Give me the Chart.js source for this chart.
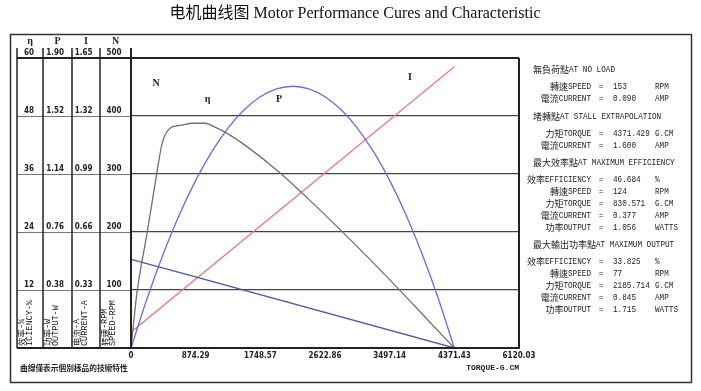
<!DOCTYPE html>
<html>
<head>
<meta charset="utf-8">
<script src="https://cdn.jsdelivr.net/npm/chart.js@4.4.1/dist/chart.umd.min.js"></script>
<style>
  html, body { margin: 0; padding: 0; background: #fff; }
</style>
</head>
<body>
<canvas id="motor" width="701" height="391"></canvas>
<script>
// torque axis (g.cm)
const torqueTicks = [0, 874.29, 1748.57, 2622.86, 3497.14, 4371.43, 5245.71];
const torqueTickLabels = ['0', '874.29', '1748.57', '2622.86', '3497.14', '4371.43', '6120.03'];

// left axes: efficiency / output / current / speed
const effTicks = [0, 12, 24, 36, 48, 60];
const effTickLabels = ['', '12', '24', '36', '48', '60'];
const powerTicks = [0, 0.38, 0.76, 1.14, 1.52, 1.90];
const powerTickLabels = ['', '0.38', '0.76', '1.14', '1.52', '1.90'];
const currentTicks = [0, 0.33, 0.66, 0.99, 1.32, 1.65];
const currentTickLabels = ['', '0.33', '0.66', '0.99', '1.32', '1.65'];
const speedTicks = [0, 100, 200, 300, 400, 500];
const speedTickLabels = ['', '100', '200', '300', '400', '500'];

// N - speed (rpm)
const speedTorque = [0, 4371.43];
const speedRpm = [153, 0];

// I - current (A)
const currentTorque = [0, 4371.43];
const currentAmp = [0.09, 1.6];

// η - efficiency (%)
const effTorque = [0, 82, 218, 345, 422, 531, 680, 830.57, 1000, 1150, 1300, 1600, 2000, 2400, 2800, 3200, 3600, 4000, 4371.43];
const effPct = [0, 11.6, 23.8, 35.8, 42.4, 45.5, 46.1, 46.5, 46.5, 45.6, 44.4, 41.3, 36.4, 30.8, 24.9, 18.8, 12.5, 6.0, 0];

// P - output (W)
const powerTorque = [0, 218.57, 437.14, 655.71, 874.29, 1092.86, 1311.43, 1530, 1748.57, 1967.14, 2185.71,
  2404.29, 2622.86, 2841.43, 3060, 3278.57, 3497.14, 3715.71, 3934.29, 4152.86, 4371.43];
const powerWatt = [0, 0.326, 0.617, 0.875, 1.098, 1.286, 1.441, 1.561, 1.646, 1.698, 1.715,
  1.698, 1.646, 1.561, 1.441, 1.286, 1.098, 0.875, 0.617, 0.326, 0];

// side panel figures
const noLoad = [['轉速SPEED', '153', 'RPM'], ['電流CURRENT', '0.090', 'AMP']];
const stall = [['力矩TORQUE', '4371.429', 'G.CM'], ['電流CURRENT', '1.600', 'AMP']];
const maxEff = [['效率EFFICIENCY', '46.684', '%'], ['轉速SPEED', '124', 'RPM'], ['力矩TORQUE', '830.571', 'G.CM'],
  ['電流CURRENT', '0.377', 'AMP'], ['功率OUTPUT', '1.056', 'WATTS']];
const maxOut = [['效率EFFICIENCY', '33.825', '%'], ['轉速SPEED', '77', 'RPM'], ['力矩TORQUE', '2185.714', 'G.CM'],
  ['電流CURRENT', '0.845', 'AMP'], ['功率OUTPUT', '1.715', 'WATTS']];

const pts = (xs, ys) => xs.map((x, i) => ({ x, y: ys[i] }));

const tickFont = { family: '"Liberation Sans Narrow", "DejaVu Sans Condensed", sans-serif', size: 8, weight: 'bold' };

const leftAxis = (max, ticks, labels, weight, width, pad, withGrid) => ({
  type: 'linear',
  position: 'left',
  min: 0,
  max,
  weight,
  afterBuildTicks: s => { s.ticks = ticks.map(v => ({ value: v })); },
  afterFit: s => { s.width = width; },
  border: { display: false },
  grid: withGrid ? { color: '#444', lineWidth: 1.2, drawTicks: false } : { display: false, drawTicks: false },
  ticks: {
    autoSkip: false,
    crossAlign: 'center',
    padding: pad,
    labelOffset: -5,
    color: '#222',
    font: tickFont,
    callback: (v, i) => labels[i]
  }
});

// draws mixed CJK / latin text, latin squeezed to half width like the original print
const isCJK = s => /[\u2E80-\u9FFF\uFF00-\uFFEF]/.test(s);
function mixedText(ctx, text, x, y, size, latinW, align, bold) {
  const runs = text.match(/[\u2E80-\u9FFF\uFF00-\uFFEF]+|[^\u2E80-\u9FFF\uFF00-\uFFEF]+/g);
  const widths = runs.map(r => isCJK(r) ? r.length * size : r.length * latinW);
  const total = widths.reduce((a, b) => a + b, 0);
  let cx = align === 'right' ? x - total : align === 'center' ? x - total / 2 : x;
  ctx.textAlign = 'left';
  ctx.textBaseline = 'middle';
  runs.forEach((r, i) => {
    ctx.font = (bold ? 'bold ' : '') + (isCJK(r) ? size + 'px "Noto Sans CJK TC"' : size + 'px "Liberation Mono"');
    ctx.fillText(r, cx, y, widths[i]);
    cx += widths[i];
  });
}

const frame = {
  id: 'motorFrame',
  beforeDraw(chart) {
    const ctx = chart.ctx;
    ctx.save();
    ctx.fillStyle = '#fff';
    ctx.fillRect(0, 0, chart.width, chart.height);
    ctx.restore();
  },
  afterDraw(chart) {
    const ctx = chart.ctx;
    const { left, right, top, bottom } = chart.chartArea;
    const sE = chart.scales.yE, sP = chart.scales.yP, sI = chart.scales.yI, sN = chart.scales.yN, sx = chart.scales.x;
    const colTop = 48;
    const line = (x1, y1, x2, y2) => { ctx.beginPath(); ctx.moveTo(x1, y1); ctx.lineTo(x2, y2); ctx.stroke(); };
    ctx.save();

    // title
    ctx.fillStyle = '#111';
    ctx.font = '16px "Liberation Serif", "Noto Sans CJK SC"';
    ctx.textAlign = 'center';
    ctx.textBaseline = 'middle';
    ctx.fillText('电机曲线图 Motor Performance Cures and Characteristic', 355, 14);

    // outer box
    ctx.strokeStyle = '#333';
    ctx.lineWidth = 1.5;
    ctx.strokeRect(10.5, 34.5, 681, 348);

    // rows across the axis columns
    ctx.strokeStyle = '#777';
    ctx.lineWidth = 1;
    speedTicks.slice(1, -1).forEach(v => {
      const y = Math.round(sN.getPixelForValue(v)) + 0.5;
      line(sE.left, y, left, y);
    });

    // column rules and plot frame
    ctx.strokeStyle = '#222';
    ctx.lineWidth = 1.5;
    [sE.left, sE.right, sP.right, sI.right].forEach(x => line(x, colTop, x, bottom));
    ctx.lineWidth = 2;
    line(left, colTop, left, bottom + 1);
    line(right, top, right, bottom + 1);
    line(sE.left, top, right, top);
    line(sE.left, bottom, right, bottom);

    // axis letters
    ctx.fillStyle = '#222';
    ctx.font = 'bold 10px "Liberation Serif"';
    ctx.textAlign = 'center';
    [['η', sE], ['P', sP], ['I', sI], ['N', sN]].forEach(([t, s]) => ctx.fillText(t, (s.left + s.right) / 2, 41));

    // rotated axis names
    const names = [['效率-%', 'ICIENCY-%'], ['功率-W', 'OUTPUT-W'], ['电流-A', 'CURRENT-A'], ['转速-RPM', 'SPEED-RPM']];
    [sE, sP, sI, sN].forEach((s, i) => {
      names[i].forEach((t, j) => {
        ctx.save();
        ctx.translate(s.left + 5 + j * 8, bottom - 2);
        ctx.rotate(-Math.PI / 2);
        mixedText(ctx, t, 0, 0, 8.5, 5.4, 'left', false);
        ctx.restore();
      });
    });

    // curve names
    ctx.font = 'bold 10px "Liberation Serif"';
    ctx.textAlign = 'center';
    ctx.textBaseline = 'middle';
    [['N', 340, 457], ['η', 1035, 428], ['P', 2002, 428], ['I', 3772, 467]].forEach(([t, tx, ty]) => {
      ctx.fillText(t, sx.getPixelForValue(tx), sN.getPixelForValue(ty));
    });

    // footnote
    mixedText(ctx, '曲線僅表示個別樣品的技術特性', 20, 368, 7.7, 4.5, 'left', true);

    // side panel
    const blocks = [
      { head: '無負荷點AT NO LOAD', y: 70, rows: noLoad, y0: 87 },
      { head: '堵轉點AT STALL EXTRAPOLATION', y: 117, rows: stall, y0: 134 },
      { head: '最大效率點AT MAXIMUM EFFICIENCY', y: 163, rows: maxEff, y0: 180 },
      { head: '最大輸出功率點AT MAXIMUM OUTPUT', y: 245, rows: maxOut, y0: 262 }
    ];
    ctx.fillStyle = '#222';
    blocks.forEach(b => {
      mixedText(ctx, b.head, 533, b.y, 9, 4.6, 'left', false);
      b.rows.forEach((r, k) => {
        const y = b.y0 + k * 12;
        mixedText(ctx, r[0], 591, y, 9, 4.6, 'right', false);
        mixedText(ctx, '=', 601, y, 9, 4.6, 'center', false);
        mixedText(ctx, r[1], 613, y, 9, 4.6, 'left', false);
        mixedText(ctx, r[2], 655, y, 9, 4.6, 'left', false);
      });
    });

    ctx.restore();
  }
};

const lineDs = (label, data, axis, color) => ({
  label,
  data,
  yAxisID: axis,
  borderColor: color,
  backgroundColor: color,
  borderWidth: 1.3,
  pointRadius: 0,
  fill: false,
  cubicInterpolationMode: 'monotone'
});

new Chart(document.getElementById('motor'), {
  type: 'line',
  data: {
    datasets: [
      lineDs('N', pts(speedTorque, speedRpm), 'yN', '#5252a6'),
      lineDs('η', pts(effTorque, effPct), 'yE', '#707070'),
      lineDs('P', pts(powerTorque, powerWatt), 'yP', '#6a6ae0'),
      lineDs('I', pts(currentTorque, currentAmp), 'yI', '#e87c7c')
    ]
  },
  options: {
    responsive: false,
    animation: false,
    layout: { padding: { left: 17, right: 182, top: 58, bottom: 0 } },
    plugins: { legend: { display: false }, tooltip: { enabled: false } },
    scales: {
      x: {
        type: 'linear',
        min: 0,
        max: 5245.71,
        afterBuildTicks: s => { s.ticks = torqueTicks.map(v => ({ value: v })); },
        afterFit: s => { s.height = 43; },
        border: { display: false },
        grid: { display: false, drawTicks: false },
        ticks: {
          autoSkip: false,
          maxRotation: 0,
          padding: 3,
          color: '#222',
          font: tickFont,
          callback: (v, i) => torqueTickLabels[i]
        },
        title: {
          display: true,
          text: 'TORQUE-G.CM',
          align: 'end',
          color: '#222',
          font: { family: '"Liberation Mono", monospace', size: 8, weight: 'bold' },
          padding: { top: 0, bottom: 18 }
        }
      },
      yE: leftAxis(60, effTicks, effTickLabels, 4, 26, 9, false),
      yP: leftAxis(1.9, powerTicks, powerTickLabels, 3, 29, 8, false),
      yI: leftAxis(1.65, currentTicks, currentTickLabels, 2, 28, 7.5, false),
      yN: leftAxis(500, speedTicks, speedTickLabels, 1, 31, 9.5, true)
    }
  },
  plugins: [frame]
});
</script>
</body>
</html>
